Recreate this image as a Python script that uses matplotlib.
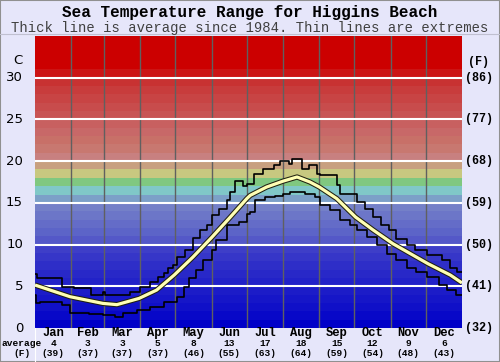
import matplotlib.pyplot as plt
import numpy as np

# ------------------------------------------------
# DATA
# ------------------------------------------------

MONTHS      = ["Jan", "Feb", "Mar", "Apr", "May", "Jun",
               "Jul", "Aug", "Sep", "Oct", "Nov", "Dec"]
MONTH_DAYS  = [31, 28, 31, 30, 31, 30, 31, 31, 30, 31, 30, 31]
AVG_C       = [4, 3, 3, 5, 8, 13, 17, 18, 15, 12, 9, 6]
AVG_F       = [39, 37, 37, 37, 46, 55, 63, 64, 59, 54, 48, 43]

C_TICKS     = [0, 5, 10, 15, 20, 25, 30]
F_LABELS    = ["(32)", "(41)", "(50)", "(59)", "(68)", "(77)", "(86)"]

# average since 1984 (day of year, deg C)
avg_day  = [0, 30, 58, 70, 89, 104, 119, 135, 151, 167, 181, 184, 198,
            212, 224, 235, 243, 258, 274, 289, 306, 321, 336, 355, 365]
avg_temp = [5.15, 3.75, 2.95, 2.8, 3.55, 4.55, 6.35, 8.5, 10.85, 13.3, 15.5, 15.9, 16.9,
            17.6, 18.1, 17.5, 16.9, 15.5, 13.3, 11.75, 10.1, 8.9, 7.7, 6.35, 5.4]

# highest recorded (step line)
max_day  = [0, 2, 23, 33, 48, 58, 60, 81, 90, 98, 105, 110, 114, 118, 121,
            128, 135, 141, 147, 151, 157, 164, 167, 171, 178, 181, 187, 195,
            204, 209, 217, 220, 228, 234, 241, 244, 258, 261, 275, 282, 289,
            296, 303, 309, 318, 325, 335, 348, 355, 361, 365]
max_temp = [6.45, 5.95, 4.95, 4.75, 3.95, 4.35, 4.0, 4.35, 4.95, 5.55, 6.15, 6.55, 7.15, 7.55, 8.55,
            9.35, 10.75, 11.75, 12.35, 13.55, 14.3, 15.3, 16.3, 17.65, 17.0, 17.3, 18.5, 19.1,
            19.5, 20.0, 19.6, 20.3, 19.1, 19.5, 18.5, 18.3, 17.1, 16.1, 15.1, 14.3, 13.3,
            12.3, 11.7, 10.7, 9.9, 9.3, 8.7, 8.1, 7.15, 6.7, 6.7]

# lowest recorded (step line)
min_day  = [0, 1, 4, 23, 30, 46, 58, 68, 75, 87, 98, 110, 121, 127, 132,
            138, 144, 151, 155, 164, 174, 181, 184, 188, 197, 205, 212, 218,
            231, 239, 244, 252, 261, 269, 275, 284, 292, 301, 309, 318, 326,
            335, 345, 352, 360, 365]
min_temp = [3.95, 2.95, 3.15, 2.75, 1.85, 1.7, 1.55, 1.35, 1.85, 2.15, 2.55, 3.15, 3.75, 4.95, 5.95,
            6.95, 8.15, 9.35, 10.55, 12.35, 12.75, 13.7, 13.9, 15.3, 15.65, 15.8, 16.1, 16.3,
            16.1, 15.65, 14.7, 14.1, 12.9, 12.3, 11.7, 10.9, 9.9, 8.9, 8.15, 7.15, 6.7,
            6.15, 5.15, 4.55, 3.95, 3.95]

# background colour bands, one per degree C from 0 up
BANDS = [(0, 0, 200), (8, 8, 200), (16, 16, 200), (22, 22, 200), (28, 28, 200),
         (34, 34, 200), (40, 40, 200), (46, 46, 200), (54, 54, 200), (62, 62, 200),
         (84, 88, 200), (92, 100, 200), (100, 108, 200), (108, 118, 200), (116, 128, 200),
         (124, 160, 200), (128, 200, 200), (128, 200, 128), (200, 200, 128), (200, 160, 128),
         (200, 128, 128), (200, 120, 112), (200, 112, 104), (200, 104, 104), (200, 96, 96),
         (200, 84, 84), (200, 76, 76), (200, 68, 68), (200, 60, 60), (200, 50, 50),
         (204, 20, 20), (204, 0, 0), (204, 0, 0), (204, 0, 0), (204, 0, 0)]

BG   = "#e6e6fa"
MONO = "Liberation Mono"

# ------------------------------------------------
# PLOT
# ------------------------------------------------

fig = plt.figure(figsize=(5, 3.62), dpi=100, facecolor=BG)
ax = fig.add_axes([35 / 500, 1 - 328 / 362, 427 / 500, 292 / 362])

for i, c in enumerate(BANDS):
    ax.axhspan(i, i + 1, color=np.array(c) / 255, lw=0)

bounds = np.cumsum(MONTH_DAYS)[:-1]
for b in bounds:
    ax.axvline(b, color="#606060", lw=1)
for t in C_TICKS[1:]:
    ax.axhline(t, color="white", lw=1.5)

ax.plot(max_day, max_temp, drawstyle="steps-post", color="black", lw=1.2)
ax.plot(min_day, min_temp, drawstyle="steps-post", color="black", lw=1.2)
ax.plot(avg_day, avg_temp, color="#202010", lw=3.8, solid_capstyle="butt")
ax.plot(avg_day, avg_temp, color="#ffffb4", lw=2.3, solid_capstyle="butt")

ax.set_xlim(0, 365)
ax.set_ylim(0, 35)
ax.set_xticks([])
ax.set_yticks([])
for s in ax.spines.values():
    s.set_visible(False)

# ------------------------------------------------
# TEXT
# ------------------------------------------------

fig.text(0.5, 1 - 13 / 362, "Sea Temperature Range for Higgins Beach",
         ha="center", va="center", family=MONO, weight="bold", fontsize=11.5)
fig.text(0.5, 1 - 28 / 362, "Thick line is average since 1984. Thin lines are extremes",
         ha="center", va="center", family=MONO, fontsize=10, color="#404040")

def ypix(v):
    return 1 - (328 - v * 292 / 35) / 362

for t, f in zip(C_TICKS, F_LABELS):
    fig.text(23 / 500, ypix(t), str(t), ha="right", va="center", fontsize=9.5)
    fig.text(479 / 500, ypix(t), f, ha="center", va="center",
             family=MONO, weight="bold", fontsize=8.5)
fig.text(18 / 500, 1 - 61 / 362, "C", ha="center", va="center", fontsize=9.5)
fig.text(478 / 500, 1 - 62 / 362, "(F)", ha="center", va="center",
         family=MONO, weight="bold", fontsize=8.5)

starts = np.concatenate([[0], np.cumsum(MONTH_DAYS)[:-1]])
for m, s, d, c, f in zip(MONTHS, starts, MONTH_DAYS, AVG_C, AVG_F):
    xf = (35 + (s + d / 2) * 427 / 365) / 500
    fig.text(xf, 1 - 333 / 362, m, ha="center", va="center",
             family=MONO, weight="bold", fontsize=8.7)
    fig.text(xf, 1 - 343 / 362, str(c), ha="center", va="center",
             family=MONO, weight="bold", fontsize=6.8)
    fig.text(xf, 1 - 353 / 362, f"({f})", ha="center", va="center",
             family=MONO, weight="bold", fontsize=6.8)
fig.text(22 / 500, 1 - 343 / 362, "average", ha="center", va="center",
         family=MONO, weight="bold", fontsize=6.8)
fig.text(22 / 500, 1 - 353 / 362, "(F)", ha="center", va="center",
         family=MONO, weight="bold", fontsize=6.8)

fig.add_artist(plt.Line2D([0, 1], [1 - 34 / 362] * 2, color="#c0c0d0", lw=0.8))
fig.add_artist(plt.Line2D([35 / 500] * 2, [0, 1 - 328 / 362], color="#ffffff", lw=0.8))
fig.add_artist(plt.Rectangle((0, 0), 1, 1, fill=False, ec="#909090", lw=1.5,
                             transform=fig.transFigure))

fig.savefig("out.png", dpi=100, facecolor=BG)
